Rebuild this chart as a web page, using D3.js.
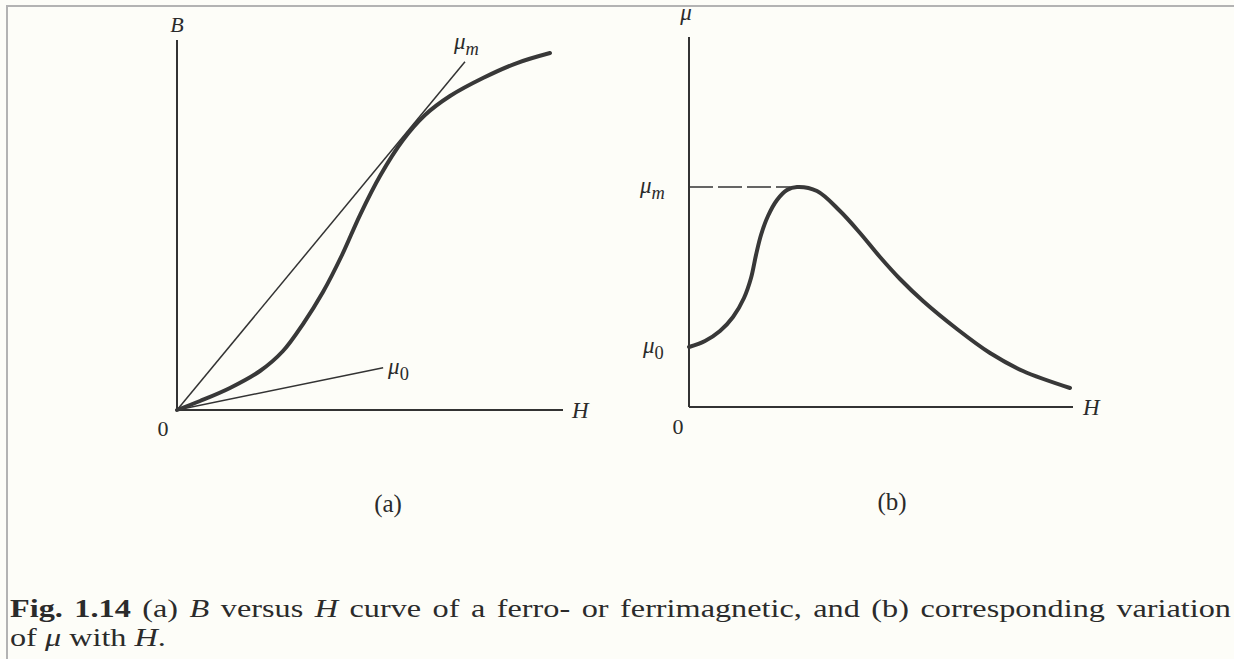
<!DOCTYPE html>
<html>
<head>
<meta charset="utf-8">
<script src="https://cdn.jsdelivr.net/npm/d3@7"></script>
<style>
  html, body { margin: 0; padding: 0; background: #fdfdf8; overflow: hidden; }
  svg text { font-family: "Liberation Serif", "Times New Roman", serif; fill: #2b2b2b; }
</style>
</head>
<body>
<svg id="fig" width="1234" height="659"></svg>
<script>
// (a) B–H magnetisation curve (field H, induction B, arbitrary units 0–100)
const bhField     = [0, 5.96, 13.73, 21.50, 27.46, 32.64, 37.82, 42.75, 47.41, 52.59, 58.55, 64.25, 70.73, 79.27, 88.08, 96.63];
const bhInduction = [0, 2.43, 5.95, 10.54, 15.95, 23.24, 31.89, 41.89, 52.70, 63.24, 72.97, 79.73, 84.86, 89.73, 93.78, 96.49];

// straight lines through the origin: maximum permeability and initial permeability
const muMaxLineField  = [0, 74.6];
const muMaxLineB      = [0, 94.1];
const muInitLineField = [0, 53.4];
const muInitLineB     = [0, 11.4];

// (b) permeability versus field
const muField = [0, 4.17, 8.07, 11.46, 14.32, 16.15, 17.45, 18.75, 20.57, 22.92, 25.52, 28.13, 33.33, 39.32, 44.53, 49.74, 54.95, 60.94, 69.79, 78.39, 86.98, 99.22];
const muValue = [16.22, 17.84, 20.54, 24.32, 29.46, 34.86, 41.08, 46.49, 51.62, 55.95, 58.65, 59.46, 58.38, 52.97, 47.03, 40.54, 34.59, 28.65, 21.08, 14.59, 9.73, 5.14];
const muMax = 59.46;
const muMaxField = 26.5;

const captionLine1 = [
  { t: "Fig. 1.14", w: "bold" },
  { t: " (a) " },
  { t: "B", s: "italic" },
  { t: " versus " },
  { t: "H", s: "italic" },
  { t: " curve of a ferro- or ferrimagnetic, and (b) corresponding variation" }
];
const captionLine2 = [
  { t: "of " }, { t: "\u03bc", s: "italic" }, { t: " with " }, { t: "H", s: "italic" }, { t: "." }
];

const svg = d3.select("#fig");
const ink = "#333";

// scanned page frame
svg.append("line").attr("x1", 7).attr("y1", 6).attr("x2", 1234).attr("y2", 6)
  .attr("stroke", "#b3b3b3").attr("stroke-width", 2);
svg.append("line").attr("x1", 7).attr("y1", 5).attr("x2", 7).attr("y2", 659)
  .attr("stroke", "#b3b3b3").attr("stroke-width", 2);

function muLabel(g, x, y, sub, size) {
  const t = g.append("text").attr("x", x).attr("y", y).attr("font-size", size).attr("font-style", "italic");
  t.append("tspan").text("\u03bc");
  t.append("tspan").attr("dy", size * 0.25).attr("font-size", size * 0.8)
    .attr("font-style", sub === "m" ? "italic" : "normal").text(sub);
  return t;
}

// ---------- panel (a) ----------
const xA = d3.scaleLinear().domain([0, 100]).range([177, 563]);
const yA = d3.scaleLinear().domain([0, 100]).range([410, 40]);
const gA = svg.append("g");

gA.append("line").attr("x1", xA(0)).attr("y1", yA(0)).attr("x2", xA(0)).attr("y2", yA(100))
  .attr("stroke", ink).attr("stroke-width", 2);
gA.append("line").attr("x1", xA(0)).attr("y1", yA(0)).attr("x2", xA(100)).attr("y2", yA(0))
  .attr("stroke", ink).attr("stroke-width", 2);

const straightA = d3.line().x(d => xA(d[0])).y(d => yA(d[1]));
gA.append("path").datum(d3.zip(muMaxLineField, muMaxLineB)).attr("d", straightA)
  .attr("fill", "none").attr("stroke", ink).attr("stroke-width", 1.5);
gA.append("path").datum(d3.zip(muInitLineField, muInitLineB)).attr("d", straightA)
  .attr("fill", "none").attr("stroke", ink).attr("stroke-width", 1.5);

const smoothA = d3.line().x(d => xA(d[0])).y(d => yA(d[1])).curve(d3.curveCatmullRom.alpha(0.5));
gA.append("path").datum(d3.zip(bhField, bhInduction)).attr("d", smoothA)
  .attr("fill", "none").attr("stroke", "#383838").attr("stroke-width", 4).attr("stroke-linecap", "round");

gA.append("text").attr("x", xA(0)).attr("y", yA(100) - 8).attr("text-anchor", "middle")
  .attr("font-size", 22).attr("font-style", "italic").text("B");
gA.append("text").attr("x", xA(100) + 9).attr("y", yA(0) + 8)
  .attr("font-size", 23).attr("font-style", "italic").text("H");
gA.append("text").attr("x", xA(0) - 14).attr("y", yA(0) + 26).attr("text-anchor", "middle")
  .attr("font-size", 22).text("0");
muLabel(gA, xA(muMaxLineField[1]) - 11, yA(muMaxLineB[1]) - 13, "m", 23);
muLabel(gA, xA(muInitLineField[1]) + 5, yA(muInitLineB[1]) + 6, "0", 23);
gA.append("text").attr("x", 388).attr("y", 512).attr("text-anchor", "middle")
  .attr("font-size", 25).text("(a)");

// ---------- panel (b) ----------
const xB = d3.scaleLinear().domain([0, 100]).range([689, 1073]);
const yB = d3.scaleLinear().domain([0, 100]).range([407, 37]);
const gB = svg.append("g");

gB.append("line").attr("x1", xB(0)).attr("y1", yB(0)).attr("x2", xB(0)).attr("y2", yB(100))
  .attr("stroke", ink).attr("stroke-width", 2);
gB.append("line").attr("x1", xB(0)).attr("y1", yB(0)).attr("x2", xB(100)).attr("y2", yB(0))
  .attr("stroke", ink).attr("stroke-width", 2);

// dashed guide at the permeability maximum
gB.append("line").attr("x1", xB(0)).attr("y1", yB(muMax)).attr("x2", xB(muMaxField)).attr("y2", yB(muMax))
  .attr("stroke", ink).attr("stroke-width", 1.5).attr("stroke-dasharray", "24,5");

const smoothB = d3.line().x(d => xB(d[0])).y(d => yB(d[1])).curve(d3.curveCatmullRom.alpha(0.5));
gB.append("path").datum(d3.zip(muField, muValue)).attr("d", smoothB)
  .attr("fill", "none").attr("stroke", "#383838").attr("stroke-width", 4).attr("stroke-linecap", "round");

gB.append("text").attr("x", xB(0) - 3).attr("y", yB(100) - 17).attr("text-anchor", "middle")
  .attr("font-size", 23).attr("font-style", "italic").text("\u03bc");
muLabel(gB, 640, yB(muMax) + 6, "m", 23);
muLabel(gB, 643, yB(muValue[0]) + 6, "0", 23);
gB.append("text").attr("x", xB(0) - 11).attr("y", yB(0) + 27).attr("text-anchor", "middle")
  .attr("font-size", 22).text("0");
gB.append("text").attr("x", xB(100) + 10).attr("y", yB(0) + 8)
  .attr("font-size", 23).attr("font-style", "italic").text("H");
gB.append("text").attr("x", 892).attr("y", 510).attr("text-anchor", "middle")
  .attr("font-size", 25).text("(b)");

// ---------- caption (wide book type, first line justified to the page edge) ----------
const capScale = 1.29;
const capLeft = 10, capRight = 1231;
function captionLine(parts, y, justify) {
  const t = svg.append("text")
    .attr("transform", `translate(${capLeft},${y}) scale(${capScale},1)`)
    .attr("font-size", 25);
  parts.forEach(p => {
    const s = t.append("tspan").text(p.t);
    if (p.w) s.attr("font-weight", p.w);
    if (p.s) s.attr("font-style", p.s);
  });
  if (justify) {
    const natural = t.node().getComputedTextLength();
    const gaps = parts.map(p => p.t).join("").split(" ").length - 1;
    const extra = ((capRight - capLeft) / capScale - natural) / gaps;
    t.style("word-spacing", Math.max(0, extra) + "px");
  }
  return t;
}
captionLine(captionLine1, 617, true);
captionLine(captionLine2, 646, false);
</script>
</body>
</html>
